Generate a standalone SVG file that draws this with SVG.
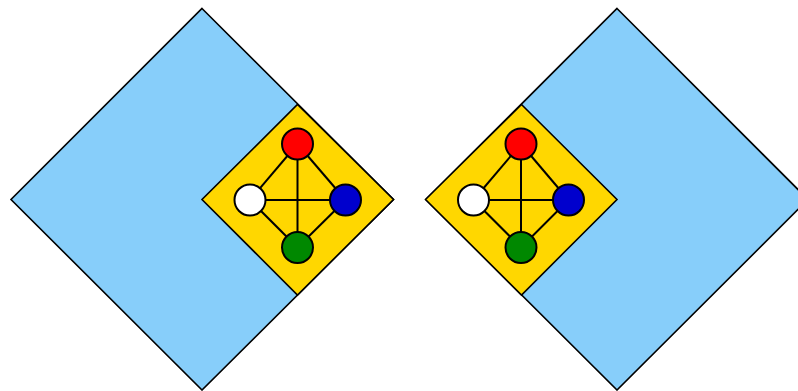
<svg xmlns="http://www.w3.org/2000/svg" width="798" height="391" viewBox="0 0 798 391">
<style>
.big{fill:#87CEFA;stroke:#000;stroke-width:1.6}
.inner{fill:#FFD700;stroke:#000;stroke-width:1.6}
.edge{stroke:#000;stroke-width:2;fill:none}
.node{stroke:#000;stroke-width:2}
</style>
<g id="left-outer"><polygon class="big" points="202,8.5 393.5,199.5 202,390 11,199.5"/></g>
<g id="left-inner"><polygon class="inner" points="297.5,104.5 393.5,199.5 297.5,295 202,199.5"/></g>
<g id="right-outer"><polygon class="big" points="617,8.5 808,199.5 617,390 426,199.5"/></g>
<g id="right-inner"><polygon class="inner" points="521.5,104.5 617,199.5 521.5,295 425.5,199.5"/></g>
<g id="connectors">
<line class="edge" x1="297.5" y1="144" x2="250" y2="200"/>
<line class="edge" x1="297.5" y1="144" x2="345.5" y2="200"/>
<line class="edge" x1="297.5" y1="144" x2="297.5" y2="247.5"/>
<line class="edge" x1="250" y1="200" x2="345.5" y2="200"/>
<line class="edge" x1="250" y1="200" x2="297.5" y2="247.5"/>
<line class="edge" x1="345.5" y1="200" x2="297.5" y2="247.5"/>
<line class="edge" x1="521" y1="144" x2="473.5" y2="200"/>
<line class="edge" x1="521" y1="144" x2="568.5" y2="200"/>
<line class="edge" x1="521" y1="144" x2="521" y2="247.5"/>
<line class="edge" x1="473.5" y1="200" x2="568.5" y2="200"/>
<line class="edge" x1="473.5" y1="200" x2="521" y2="247.5"/>
<line class="edge" x1="568.5" y1="200" x2="521" y2="247.5"/>
</g>
<g id="left-red"><circle class="node" cx="297.5" cy="144" r="15.5" fill="#FF0000"/></g>
<g id="left-white"><circle class="node" cx="250" cy="200" r="15.5" fill="#FFFFFF"/></g>
<g id="left-blue"><circle class="node" cx="345.5" cy="200" r="15.5" fill="#0000CD"/></g>
<g id="left-green"><circle class="node" cx="297.5" cy="247.5" r="15.5" fill="#008800"/></g>
<g id="right-red"><circle class="node" cx="521" cy="144" r="15.5" fill="#FF0000"/></g>
<g id="right-white"><circle class="node" cx="473.5" cy="200" r="15.5" fill="#FFFFFF"/></g>
<g id="right-blue"><circle class="node" cx="568.5" cy="200" r="15.5" fill="#0000CD"/></g>
<g id="right-green"><circle class="node" cx="521" cy="247.5" r="15.5" fill="#008800"/></g>
</svg>
